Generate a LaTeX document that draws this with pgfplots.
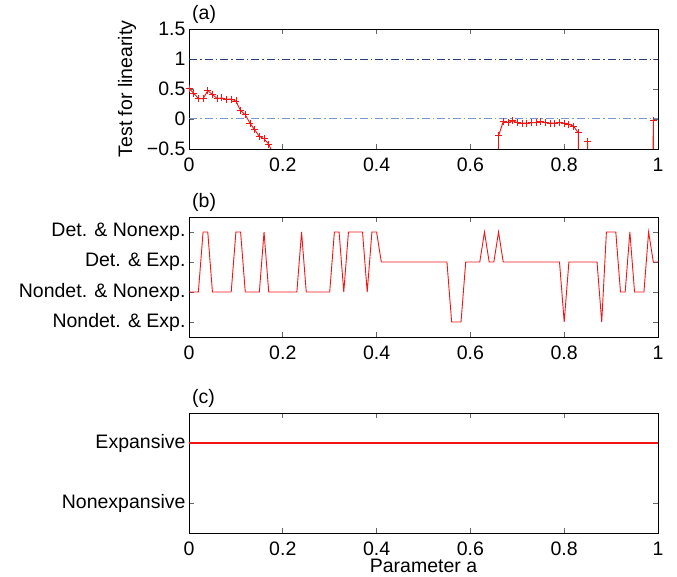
\documentclass[border=0pt]{standalone}
\usepackage{pgfplots}
\pgfplotsset{compat=1.18}
\usepackage{pgfplotstable}
\usepackage{fontspec}
\setmainfont{Liberation Sans}
\definecolor{dkblue}{RGB}{40,60,130}
\definecolor{ltblue}{RGB}{120,150,210}
\definecolor{mred}{RGB}{245,20,20}

\pgfplotstableread{
a v
0.00 0.51
0.01 0.43
0.02 0.34
0.03 0.34
0.04 0.47
0.05 0.41
0.06 0.34
0.07 0.35
0.08 0.33
0.09 0.33
0.10 0.30
0.11 0.14
0.12 0.07
0.13 -0.07
0.14 -0.18
0.15 -0.29
0.16 -0.33
0.17 -0.42
0.18 -0.60
0.19 -10
0.65 -10
0.66 -0.28
0.67 -0.045
0.68 -0.06
0.69 -0.03
0.70 -0.06
0.71 -0.07
0.72 -0.07
0.73 -0.06
0.74 -0.06
0.75 -0.045
0.76 -0.06
0.77 -0.07
0.78 -0.07
0.79 -0.06
0.80 -0.07
0.81 -0.09
0.82 -0.12
0.83 -0.23
0.84 -10
0.85 -0.37
0.86 -10
0.98 -10
0.99 -0.03
1.00 -10
}\lintest

\pgfplotstableread{
a c
0.00 2
0.01 2
0.02 2
0.03 4
0.04 4
0.05 2
0.06 2
0.07 2
0.08 2
0.09 2
0.10 4
0.11 4
0.12 2
0.13 2
0.14 2
0.15 2
0.16 4
0.17 2
0.18 2
0.19 2
0.20 2
0.21 2
0.22 2
0.23 2
0.24 4
0.25 2
0.26 2
0.27 2
0.28 2
0.29 2
0.30 2
0.31 4
0.32 4
0.33 2
0.34 4
0.35 4
0.36 4
0.37 4
0.38 2
0.39 4
0.40 4
0.41 3
0.42 3
0.43 3
0.44 3
0.45 3
0.46 3
0.47 3
0.48 3
0.49 3
0.50 3
0.51 3
0.52 3
0.53 3
0.54 3
0.55 3
0.56 1
0.57 1
0.58 1
0.59 3
0.60 3
0.61 3
0.62 3
0.63 4
0.64 3
0.65 3
0.66 4
0.67 3
0.68 3
0.69 3
0.70 3
0.71 3
0.72 3
0.73 3
0.74 3
0.75 3
0.76 3
0.77 3
0.78 3
0.79 3
0.80 1
0.81 3
0.82 3
0.83 3
0.84 3
0.85 3
0.86 3
0.87 3
0.88 1
0.89 4
0.90 4
0.91 4
0.92 2
0.93 2
0.94 4
0.95 2
0.96 2
0.97 2
0.98 4
0.99 3
1.00 3
}\classes

\pgfplotstableread{
a e
0.00 1
0.50 1
1.00 1
}\expclass

\pgfplotsset{
  myax/.style={
    scale only axis, width=469pt, height=120pt,
    xmin=0, xmax=1,
    xtick={0,0.2,0.4,0.6,0.8,1},
    xticklabels={0,0.2,0.4,0.6,0.8,1},
    tick align=inside, major tick length=5pt,
    every tick/.style={black!60, line width=0.7pt},
    axis line style={line width=0.8pt, black},
    xticklabel style={anchor=base, yshift=-23pt},
    title style={at={(0,1)}, anchor=base west, inner sep=0pt, xshift=3pt, yshift=3.5pt},
    clip=true,
  }
}

\begin{document}
\begin{tikzpicture}[font=\fontsize{19.5}{22}\selectfont]
\path[use as bounding box] (0,0) rectangle (677pt,577pt);

% panel (a)
\begin{axis}[myax, at={(189pt,428pt)}, anchor=south west,
  ymin=-0.5, ymax=1.5,
  ytick={-0.5,0,0.5,1,1.5},
  yticklabels={−0.5,0,0.5,1,1.5},
  title={(a)},
  ylabel={Test for linearity},
  ylabel style={at={(rel axis cs:-0.1322,0.5)}, anchor=center},
]
\addplot[dkblue, line width=0.8pt, dash pattern=on 8pt off 3pt on 1.5pt off 3pt] coordinates {(0,1) (1,1)};
\addplot[ltblue, line width=1pt, dash pattern=on 8pt off 3pt on 1.5pt off 3pt] coordinates {(0,0) (1,0)};
\addplot[mred, line width=0.9pt, mark=+, mark size=3.5pt, mark options={line width=0.8pt}] table[x=a, y=v] {\lintest};
\end{axis}

% panel (b)
\begin{axis}[myax, at={(189pt,240pt)}, anchor=south west,
  ymin=0.5, ymax=4.5,
  ytick={1,2,3,4},
  yticklabels={Nondet. \& Exp., Nondet. \& Nonexp., Det. \& Exp., Det. \& Nonexp.},
  title={(b)},
]
\addplot[mred, line width=0.9pt] table[x=a, y=c] {\classes};
\end{axis}

% panel (c)
\begin{axis}[myax, at={(189pt,44pt)}, anchor=south west,
  ymin=-0.5, ymax=1.5,
  ytick={0,1},
  yticklabels={Nonexpansive, Expansive},
  title={(c)},
  xlabel={Parameter a},
  xlabel style={at={(rel axis cs:0.5,0)}, anchor=base, yshift=-40pt},
]
\addplot[draw=mred, line width=1.3pt, mark=none] table[x=a, y=e] {\expclass};
\end{axis}
\end{tikzpicture}
\end{document}
